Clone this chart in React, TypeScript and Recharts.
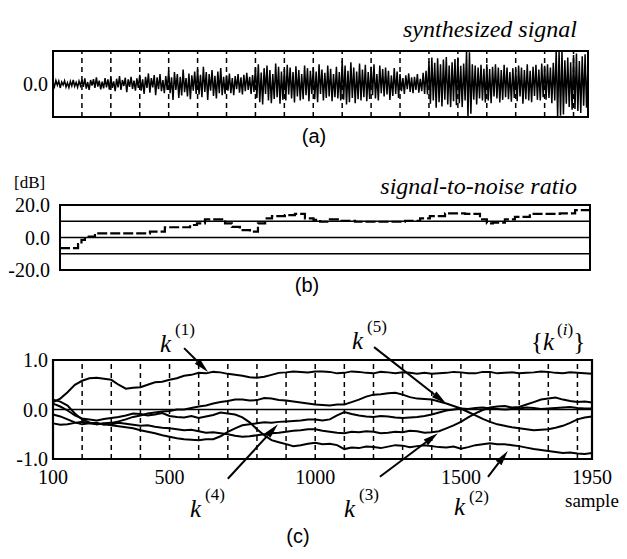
import { LineChart, Line, XAxis, YAxis, ReferenceLine, ReferenceArea } from "recharts";

// (a) synthesized signal, one value every 5 samples from 100 (one row = 100 samples)
const signalValues = [
  0.05, -0.08, 0.11, -0.04, 0.09, -0.12, 0.06, -0.03, 0.1, -0.09, 0.04, -0.11, 0.08, -0.06, 0.12, -0.07, 0.05, -0.1, 0.09, -0.05,
  0.13, -0.09, 0.17, -0.14, 0.06, -0.18, 0.12, -0.05, 0.15, -0.12, 0.2, -0.08, 0.1, -0.16, 0.07, -0.13, 0.18, -0.1, 0.14, -0.17,
  0.2, -0.12, 0.08, -0.22, 0.16, -0.1, 0.24, -0.18, 0.12, -0.06, 0.19, -0.25, 0.14, -0.09, 0.22, -0.15, 0.1, -0.2, 0.17, -0.12,
  0.28, -0.2, 0.14, -0.3, 0.22, -0.12, 0.32, -0.26, 0.18, -0.1, 0.27, -0.34, 0.2, -0.16, 0.3, -0.22, 0.12, -0.28, 0.24, -0.18,
  0.4, -0.28, 0.2, -0.48, 0.36, -0.18, 0.3, -0.42, 0.22, -0.35, 0.44, -0.25, 0.18, -0.38, 0.32, -0.46, 0.26, -0.2, 0.38, -0.3,
  0.45, -0.32, 0.28, -0.4, 0.52, -0.24, 0.36, -0.48, 0.3, -0.2, 0.42, -0.36, 0.25, -0.44, 0.38, -0.28, 0.48, -0.34, 0.22, -0.3,
  0.26, -0.2, 0.32, -0.28, 0.18, -0.34, 0.24, -0.16, 0.3, -0.26, 0.2, -0.32, 0.28, -0.22, 0.34, -0.18, 0.22, -0.3, 0.27, -0.24,
  0.5, -0.42, 0.6, -0.55, 0.35, -0.62, 0.48, -0.3, 0.56, -0.5, 0.42, -0.58, 0.3, -0.45, 0.62, -0.4, 0.52, -0.6, 0.38, -0.48,
  0.46, -0.5, 0.58, -0.32, 0.5, -0.44, 0.36, -0.56, 0.54, -0.38, 0.42, -0.5, 0.3, -0.46, 0.56, -0.34, 0.48, -0.52, 0.4, -0.3,
  0.5, -0.46, 0.38, -0.55, 0.6, -0.3, 0.44, -0.5, 0.34, -0.42, 0.56, -0.38, 0.46, -0.52, 0.3, -0.4, 0.52, -0.44, 0.36, -0.5,
  0.7, -0.48, 0.56, -0.62, 0.4, -0.55, 0.66, -0.42, 0.5, -0.58, 0.38, -0.46, 0.62, -0.5, 0.44, -0.4, 0.58, -0.52, 0.36, -0.45,
  0.52, -0.34, 0.6, -0.44, 0.3, -0.5, 0.56, -0.28, 0.45, -0.38, 0.5, -0.32, 0.4, -0.48, 0.26, -0.36, 0.48, -0.3, 0.38, -0.42,
  0.3, -0.22, 0.18, -0.3, 0.26, -0.16, 0.32, -0.24, 0.2, -0.28, 0.22, -0.18, 0.3, -0.26, 0.16, -0.22, 0.34, -0.3, 0.4, -0.32,
  0.68, -0.6, 0.8, -0.5, 0.64, -0.72, 0.78, -0.55, 0.6, -0.68, 0.74, -0.48, 0.82, -0.62, 0.56, -0.7, 0.66, -0.52, 0.76, -0.64,
  0.8, -0.58, 0.55, -0.7, 0.62, -0.5, 1.0, -1.0, 0.96, -0.9, 0.6, -0.48, 0.56, -0.62, 0.5, -0.44, 0.58, -0.5, 0.46, -0.56,
  0.6, -0.5, 0.45, -0.58, 0.52, -0.38, 0.6, -0.44, 0.5, -0.56, 0.42, -0.48, 0.58, -0.4, 0.5, -0.46, 0.36, -0.54, 0.48, -0.42,
  0.46, -0.52, 0.56, -0.38, 0.5, -0.6, 0.42, -0.46, 0.6, -0.5, 0.4, -0.55, 0.52, -0.36, 0.58, -0.48, 0.44, -0.5, 0.62, -0.4,
  0.55, -0.48, 0.6, -0.42, 0.5, -0.58, 0.64, -0.5, 1.0, -1.0, 0.98, -0.96, 1.0, -0.92, 0.72, -0.6, 0.8, -0.7, 0.66, -0.78,
  0.88, -0.76, 0.92, -0.82, 0.7, -0.88, 0.84, -0.66, 0.9, -0.72, 0.6,
];
const SIGNAL_START = 100;
const SIGNAL_STEP = 5;

// (b) signal-to-noise ratio [dB], step curve
const snrSamples = [
  100, 163, 175, 187, 222, 414, 466, 554, 578, 606, 676, 700, 728, 763, 791, 816, 840, 885, 920, 955,
  985, 1008, 1042, 1077, 1130, 1304, 1357, 1391, 1444, 1514, 1566, 1590, 1611, 1653, 1688, 1740, 1845, 1898, 1950,
];
const snrDb = [
  -6.5, -4, -1.5, 0.5, 2.6, 3.6, 6.3, 7.7, 8.7, 11.2, 8.7, 6.6, 4.6, 3.6, 8.7, 11.8, 13.2, 13.8, 14.5, 11.8,
  10.8, 9.7, 11.2, 10.3, 9.7, 10.3, 11.8, 13.2, 14.9, 14.5, 11.2, 8.7, 9.2, 11.2, 12.7, 14.5, 14.9, 16.8, 16.8,
];

// (c) coefficients k(1)..k(5), every 25 samples (one row = 250 samples)
const kSamples = [
  100, 125, 150, 175, 200, 225, 250, 275, 300, 325,
  350, 375, 400, 425, 450, 475, 500, 525, 550, 575,
  600, 625, 650, 675, 700, 725, 750, 775, 800, 825,
  850, 875, 900, 925, 950, 975, 1000, 1025, 1050, 1075,
  1100, 1125, 1150, 1175, 1200, 1225, 1250, 1275, 1300, 1325,
  1350, 1375, 1400, 1425, 1450, 1475, 1500, 1525, 1550, 1575,
  1600, 1625, 1650, 1675, 1700, 1725, 1750, 1775, 1800, 1825,
  1850, 1875, 1900, 1925, 1950,
];
const k1 = [
  0.15, 0.22, 0.35, 0.5, 0.58, 0.63, 0.64, 0.62, 0.6, 0.5,
  0.42, 0.44, 0.45, 0.5, 0.55, 0.56, 0.6, 0.63, 0.68, 0.7,
  0.74, 0.73, 0.76, 0.75, 0.72, 0.7, 0.68, 0.65, 0.64, 0.66,
  0.7, 0.74, 0.75, 0.77, 0.76, 0.75, 0.77, 0.77, 0.76, 0.73,
  0.74, 0.77, 0.76, 0.74, 0.73, 0.76, 0.75, 0.73, 0.75, 0.74,
  0.72, 0.74, 0.72, 0.73, 0.74, 0.76, 0.75, 0.73, 0.73, 0.76,
  0.76, 0.73, 0.74, 0.75, 0.73, 0.74, 0.75, 0.77, 0.76, 0.74,
  0.73, 0.75, 0.74, 0.73, 0.72,
];
const k2 = [
  0.12, 0.06, -0.02, -0.12, -0.18, -0.2, -0.22, -0.19, -0.17, -0.15,
  -0.12, -0.08, -0.09, -0.12, -0.1, -0.07, -0.13, -0.15, -0.16, -0.13,
  -0.17, -0.14, -0.11, -0.06, -0.08, -0.1, -0.16, -0.26, -0.4, -0.52,
  -0.62, -0.66, -0.7, -0.74, -0.72, -0.69, -0.67, -0.7, -0.69, -0.72,
  -0.8, -0.77, -0.78, -0.75, -0.76, -0.78, -0.75, -0.72, -0.73, -0.76,
  -0.74, -0.72, -0.74, -0.76, -0.77, -0.75, -0.79, -0.76, -0.72, -0.7,
  -0.68, -0.7, -0.7, -0.72, -0.74, -0.77, -0.8, -0.82, -0.84, -0.86,
  -0.88, -0.87, -0.89, -0.9, -0.88,
];
const k3 = [
  -0.1, -0.14, -0.2, -0.26, -0.3, -0.28, -0.27, -0.31, -0.3, -0.27,
  -0.29, -0.31, -0.33, -0.32, -0.35, -0.37, -0.38, -0.4, -0.42, -0.41,
  -0.44, -0.47, -0.46, -0.48, -0.5, -0.53, -0.55, -0.54, -0.52, -0.5,
  -0.48, -0.47, -0.45, -0.43, -0.42, -0.4, -0.4, -0.43, -0.45, -0.47,
  -0.48, -0.45, -0.46, -0.44, -0.45, -0.48, -0.47, -0.45, -0.46, -0.43,
  -0.44, -0.47, -0.46, -0.44, -0.38, -0.32, -0.25, -0.16, -0.08, -0.01,
  0.04, 0.06, 0.07, 0.04, 0.05, 0.1, 0.15, 0.2, 0.22, 0.24,
  0.2, 0.17, 0.15, 0.16, 0.14,
];
const k4 = [
  -0.28, -0.31, -0.3, -0.27, -0.25, -0.28, -0.3, -0.29, -0.32, -0.34,
  -0.36, -0.38, -0.42, -0.45, -0.48, -0.52, -0.55, -0.58, -0.6, -0.61,
  -0.62, -0.6, -0.6, -0.54, -0.45, -0.38, -0.32, -0.3, -0.28, -0.26,
  -0.27, -0.25, -0.24, -0.23, -0.22, -0.2, -0.2, -0.22, -0.2, -0.12,
  -0.05, -0.09, -0.12, -0.14, -0.15, -0.13, -0.14, -0.16, -0.17, -0.16,
  -0.15, -0.13, -0.1, -0.06, -0.02, 0.0, 0.02, 0.01, 0.03, 0.04,
  0.02, 0.01, 0.0, 0.01, 0.02, 0.04, 0.03, 0.01, 0.02, 0.03,
  0.04, 0.05, 0.03, 0.02, 0.02,
];
const k5 = [
  0.2, 0.16, 0.08, -0.08, -0.2, -0.26, -0.3, -0.28, -0.27, -0.24,
  -0.2, -0.15, -0.12, -0.08, -0.06, -0.04, -0.03, 0.0, 0.0, 0.03,
  0.06, 0.08, 0.12, 0.15, 0.17, 0.2, 0.2, 0.18, 0.19, 0.23,
  0.22, 0.19, 0.18, 0.16, 0.14, 0.12, 0.1, 0.09, 0.08, 0.1,
  0.1, 0.15, 0.2, 0.26, 0.3, 0.31, 0.33, 0.34, 0.3, 0.25,
  0.22, 0.21, 0.2, 0.16, 0.12, 0.07, 0.02, -0.05, -0.12, -0.19,
  -0.25, -0.3, -0.33, -0.36, -0.38, -0.4, -0.42, -0.41, -0.4, -0.37,
  -0.33, -0.27, -0.2, -0.16, -0.14,
];

const gridSamples = [200, 300, 400, 500, 600, 700, 800, 900, 1000, 1100, 1200, 1300, 1400, 1500, 1600, 1700, 1800, 1900];
const kTicks = [100, 500, 1000, 1500, 1950];

const signalData = signalValues.map((v, i) => ({ s: SIGNAL_START + i * SIGNAL_STEP, v }));
const snrData = snrSamples.map((s, i) => ({ s, db: snrDb[i] }));
const kData = kSamples.map((s, i) => ({ s, k1: k1[i], k2: k2[i], k3: k3[i], k4: k4[i], k5: k5[i] }));

const SERIF = "'Liberation Serif', 'Times New Roman', serif";
const SANS = "'Liberation Sans', Arial, sans-serif";

// tick renderers with an explicit serif face (printed-figure look)
function yTick(p: any) {
  return (
    <text x={p.x} y={p.y} textAnchor="end" dominantBaseline="central" fontFamily={SERIF} fontSize={20} fill="#000">
      {Number(p.payload.value).toFixed(1)}
    </text>
  );
}
function xTick(p: any) {
  return (
    <text x={p.x} y={p.y} textAnchor="middle" dy="0.71em" fontFamily={SERIF} fontSize={20} fill="#000">
      {p.payload.value}
    </text>
  );
}

function arrow(p: any) {
  const { x1, y1, x2, y2 } = p;
  const dx = x2 - x1;
  const dy = y2 - y1;
  const len = Math.hypot(dx, dy) || 1;
  const ux = dx / len;
  const uy = dy / len;
  const head = 15;
  const w = 3.6;
  const bx = x2 - ux * head;
  const by = y2 - uy * head;
  return (
    <g>
      <line x1={x1} y1={y1} x2={bx} y2={by} stroke="#000" strokeWidth={2} />
      <polygon points={`${x2},${y2} ${bx - uy * w},${by + ux * w} ${bx + uy * w},${by - ux * w}`} fill="#000" />
    </g>
  );
}

function KLabel({ x, y, n, up = 17 }: { x: number; y: number; n: string; up?: number }) {
  return (
    <text x={x} y={y} fontFamily={SERIF} fill="#000">
      <tspan fontSize={25} fontStyle="italic">k</tspan>
      <tspan fontSize={17} dx={4} dy={-up}>({n})</tspan>
    </text>
  );
}

export default function App() {
  return (
    <div style={{ position: "absolute", left: 0, top: 0, width: 627, height: 559, background: "#fff", fontFamily: SERIF }}>
      <div style={{ position: "absolute", left: 0, top: 0 }}>
        <LineChart width={627} height={130} data={signalData} margin={{ top: 51, right: 39, bottom: 13, left: 0 }}>
          <XAxis type="number" dataKey="s" domain={[100, 1950]} hide />
          <YAxis type="number" domain={[-1, 1]} ticks={[0]} width={53} axisLine={false} tickLine={false}
            tickSize={0} tickMargin={5} tick={yTick} />
          <ReferenceArea x1={100} x2={1950} y1={-1} y2={1} fill="none" fillOpacity={0} stroke="#000" strokeWidth={2} />
          {gridSamples.map((s) => (
            <ReferenceLine key={s} x={s} stroke="#000" strokeWidth={1.5} strokeDasharray="5 4" />
          ))}
          <Line dataKey="v" type="linear" stroke="#000" strokeWidth={1.5} dot={false} isAnimationActive={false} />
        </LineChart>
      </div>

      <div style={{ position: "absolute", left: 0, top: 160 }}>
        <LineChart width={627} height={130} data={snrData} margin={{ top: 45, right: 37, bottom: 20, left: 0 }}>
          <XAxis type="number" dataKey="s" domain={[100, 1950]} hide />
          <YAxis type="number" domain={[-20, 20]} ticks={[-20, 0, 20]} interval={0} width={60} axisLine={false} tickLine={false}
            tickSize={0} tickMargin={10} tick={yTick} />
          <ReferenceArea x1={100} x2={1950} y1={-20} y2={20} fill="none" fillOpacity={0} stroke="#000" strokeWidth={2} />
          <ReferenceLine y={10} stroke="#000" strokeWidth={1.6} />
          <ReferenceLine y={0} stroke="#000" strokeWidth={1.6} />
          <ReferenceLine y={-10} stroke="#000" strokeWidth={1.6} />
          <Line dataKey="db" type="stepAfter" stroke="#000" strokeWidth={2.2} strokeDasharray="10 3" dot={false} isAnimationActive={false} />
        </LineChart>
      </div>

      <div style={{ position: "absolute", left: 0, top: 340 }}>
        <LineChart width={627} height={150} data={kData} margin={{ top: 20, right: 35, bottom: 0, left: 0 }}>
          <XAxis type="number" dataKey="s" domain={[100, 1950]} ticks={kTicks} interval={0} height={31}
            axisLine={false} tickLine={false} tickSize={0} tickMargin={11} tick={xTick} />
          <YAxis type="number" domain={[-1, 1]} ticks={[-1, 0, 1]} interval={0} width={53} axisLine={false} tickLine={false}
            tickSize={0} tickMargin={5} tick={yTick} />
          <ReferenceArea x1={100} x2={1950} y1={-1} y2={1} fill="none" fillOpacity={0} stroke="#000" strokeWidth={2.2} />
          {gridSamples.map((s) => (
            <ReferenceLine key={s} x={s} stroke="#000" strokeWidth={1.5} strokeDasharray="5 4" />
          ))}
          <ReferenceLine y={0} stroke="#000" strokeWidth={1.6} />
          {["k1", "k2", "k3", "k4", "k5"].map((key) => (
            <Line key={key} dataKey={key} type="linear" stroke="#000" strokeWidth={2} dot={false} isAnimationActive={false} />
          ))}
          <ReferenceLine ifOverflow="visible" segment={[{ x: 550, y: 1.24 }, { x: 632, y: 0.76 }]} shape={arrow} />
          <ReferenceLine ifOverflow="visible" segment={[{ x: 1202, y: 1.26 }, { x: 1449, y: 0.12 }]} shape={arrow} />
          <ReferenceLine ifOverflow="visible" segment={[{ x: 700, y: -1.4 }, { x: 872, y: -0.3 }]} shape={arrow} />
          <ReferenceLine ifOverflow="visible" segment={[{ x: 1222, y: -1.36 }, { x: 1421, y: -0.48 }]} shape={arrow} />
          <ReferenceLine ifOverflow="visible" segment={[{ x: 1593, y: -1.36 }, { x: 1661, y: -0.84 }]} shape={arrow} />
        </LineChart>
      </div>

      <svg width={627} height={559} style={{ position: "absolute", left: 0, top: 0, pointerEvents: "none" }}>
        <text x={577} y={37} textAnchor="end" fontFamily={SERIF} fontStyle="italic" fontSize={24}>synthesized signal</text>
        <text x={314} y={143} textAnchor="middle" fontFamily={SANS} fontSize={20}>(a)</text>
        <text x={14} y={188} fontFamily={SERIF} fontSize={17}>[dB]</text>
        <text x={577} y={194} textAnchor="end" fontFamily={SERIF} fontStyle="italic" fontSize={24}>signal-to-noise ratio</text>
        <text x={307} y={292} textAnchor="middle" fontFamily={SANS} fontSize={20}>(b)</text>
        <KLabel x={160} y={352} n="1" />
        <KLabel x={352} y={349} n="5" />
        <text x={531} y={350} fontFamily={SERIF} fill="#000">
          <tspan fontSize={25}>{"{"}</tspan>
          <tspan fontSize={25} fontStyle="italic">k</tspan>
          <tspan fontSize={17} dx={3} dy={-15}>(</tspan>
          <tspan fontSize={17} fontStyle="italic">i</tspan>
          <tspan fontSize={17}>)</tspan>
          <tspan fontSize={25} dy={15}>{"}"}</tspan>
        </text>
        <KLabel x={190} y={517} n="4" />
        <KLabel x={344} y={517} n="3" />
        <KLabel x={454} y={515} n="2" up={13} />
        <text x={565} y={507} fontFamily={SERIF} fontSize={19}>sample</text>
        <text x={298} y={543} textAnchor="middle" fontFamily={SANS} fontSize={20}>(c)</text>
      </svg>
    </div>
  );
}
